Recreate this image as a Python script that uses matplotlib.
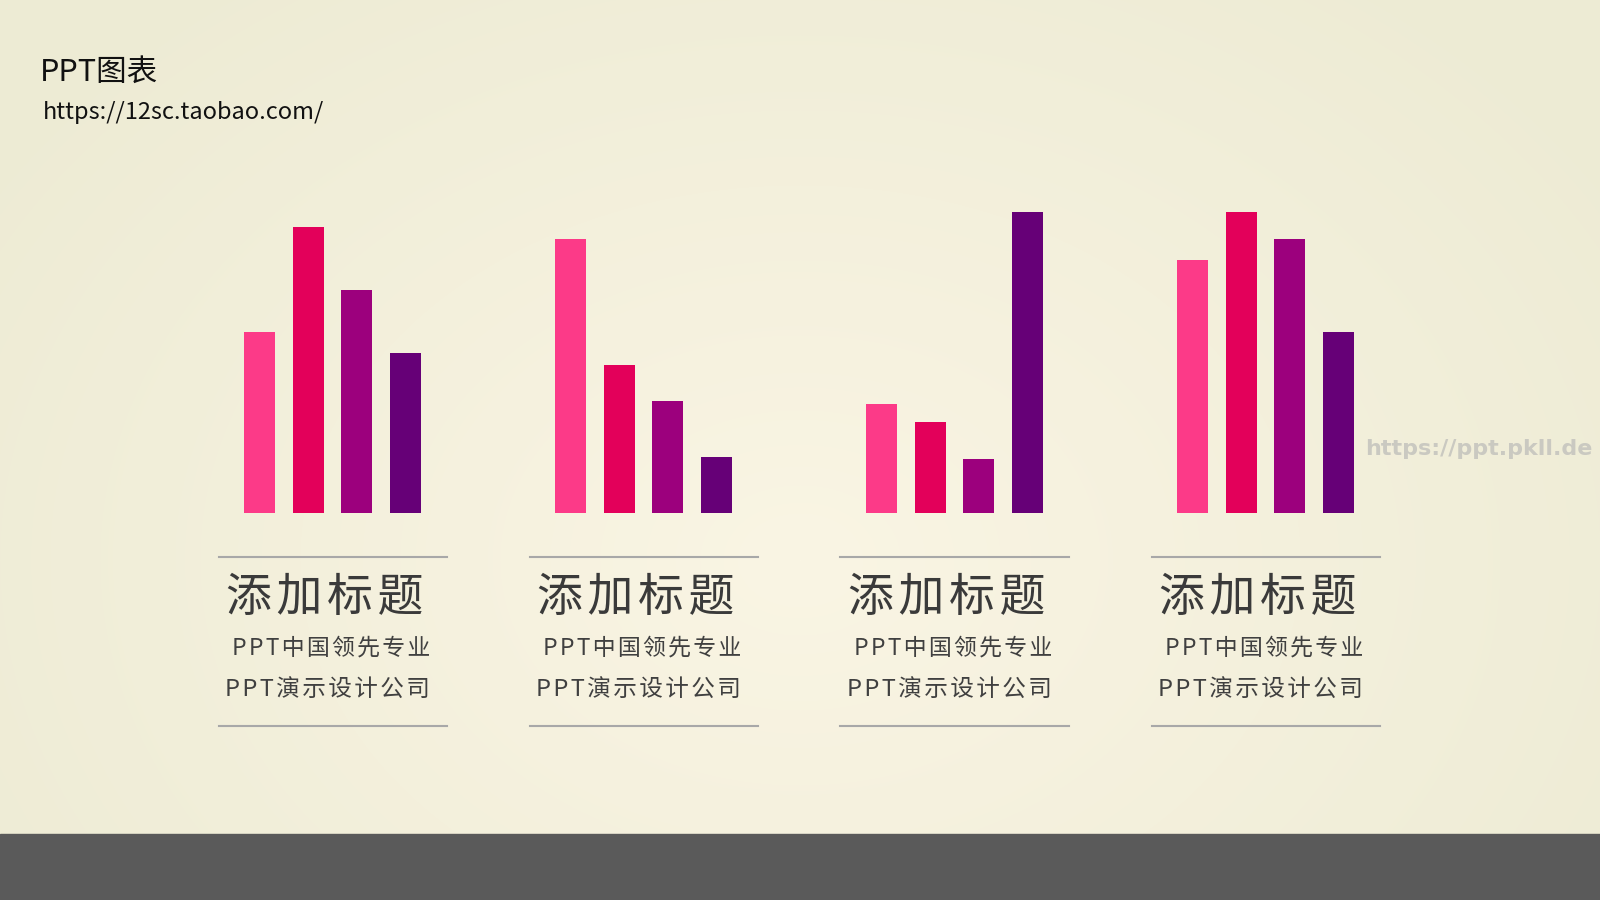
import numpy as np
import matplotlib.pyplot as plt
from matplotlib.lines import Line2D
from matplotlib.patches import Rectangle

plt.rcParams['font.family'] = ['Noto Sans CJK SC', 'DejaVu Sans']

# data (bar heights, top bar = 100)
titles = ['添加标题', '添加标题', '添加标题', '添加标题']
sub1 = 'PPT中国领先专业'
sub2 = 'PPT演示设计公司'
g1 = [60, 95, 74, 53]
g2 = [91, 49, 37, 18.5]
g3 = [36, 30, 18, 100]
g4 = [84, 100, 91, 60]
groups = [g1, g2, g3, g4]
colors = ['#fc3a88', '#e3005a', '#9c007d', '#660077']

W, H = 1600, 900
def fx(x): return x / W
def fy(y): return 1 - y / H

fig = plt.figure(figsize=(16, 9), dpi=100)

# background: soft cream vignette + dark footer band
bg = fig.add_axes([0, 0, 1, 1])
yy, xx = np.mgrid[0:H, 0:W]
r = np.sqrt(((xx - 800) / 1000.0) ** 2 + ((yy - 560) / 750.0) ** 2)
t = np.clip(r, 0, 1)[..., None]
c0 = np.array([250, 245, 228]) / 255.0
c1 = np.array([237, 235, 212]) / 255.0
bg.imshow(c0 * (1 - t) + c1 * t, extent=[0, W, H, 0], aspect='auto')
bg.add_patch(Rectangle((0, 833.5), W, H - 833.5, color='#5a5a5a'))
bg.set_xlim(0, W)
bg.set_ylim(H, 0)
bg.axis('off')

fig.text(fx(40), fy(72), 'PPT图表', fontsize=22, color='#111111', va='center')
fig.text(fx(43), fy(112), 'https://12sc.taobao.com/', fontsize=17, color='#111111', va='center')
fig.text(fx(1365), fy(449), 'https://ppt.pkll.de', fontsize=16, weight='bold',
         color='#cac9c1', family='DejaVu Sans', va='center')

pitch = 48.7
gstep = 311.0
for k, vals in enumerate(groups):
    left = 235.15 + gstep * k
    ax = fig.add_axes([fx(left), fy(512.7), 4 * pitch / W, 300.7 / H])
    ax.bar(range(4), vals, width=31 / pitch, color=colors)
    ax.set_xlim(-0.5, 3.5)
    ax.set_ylim(0, 100)
    ax.axis('off')

    cx = 332.5 + gstep * k
    for ly in (556.5, 725.5):
        fig.add_artist(Line2D([fx(cx - 114), fx(cx + 114)], [fy(ly), fy(ly)],
                              color='#a8a8a8', lw=1.5))
    fig.text(fx(cx - 8), fy(598), '\u200a'.join(titles[k]), fontsize=33,
             color='#3a3a3a', ha='center', va='center')
    fig.text(fx(cx - 1.5), fy(648), '\u200a'.join(sub1), fontsize=16.5,
             color='#404040', ha='center', va='center')
    fig.text(fx(cx - 5), fy(689), '\u200a'.join(sub2), fontsize=17,
             color='#404040', ha='center', va='center')

fig.savefig('out.png', dpi=100)
